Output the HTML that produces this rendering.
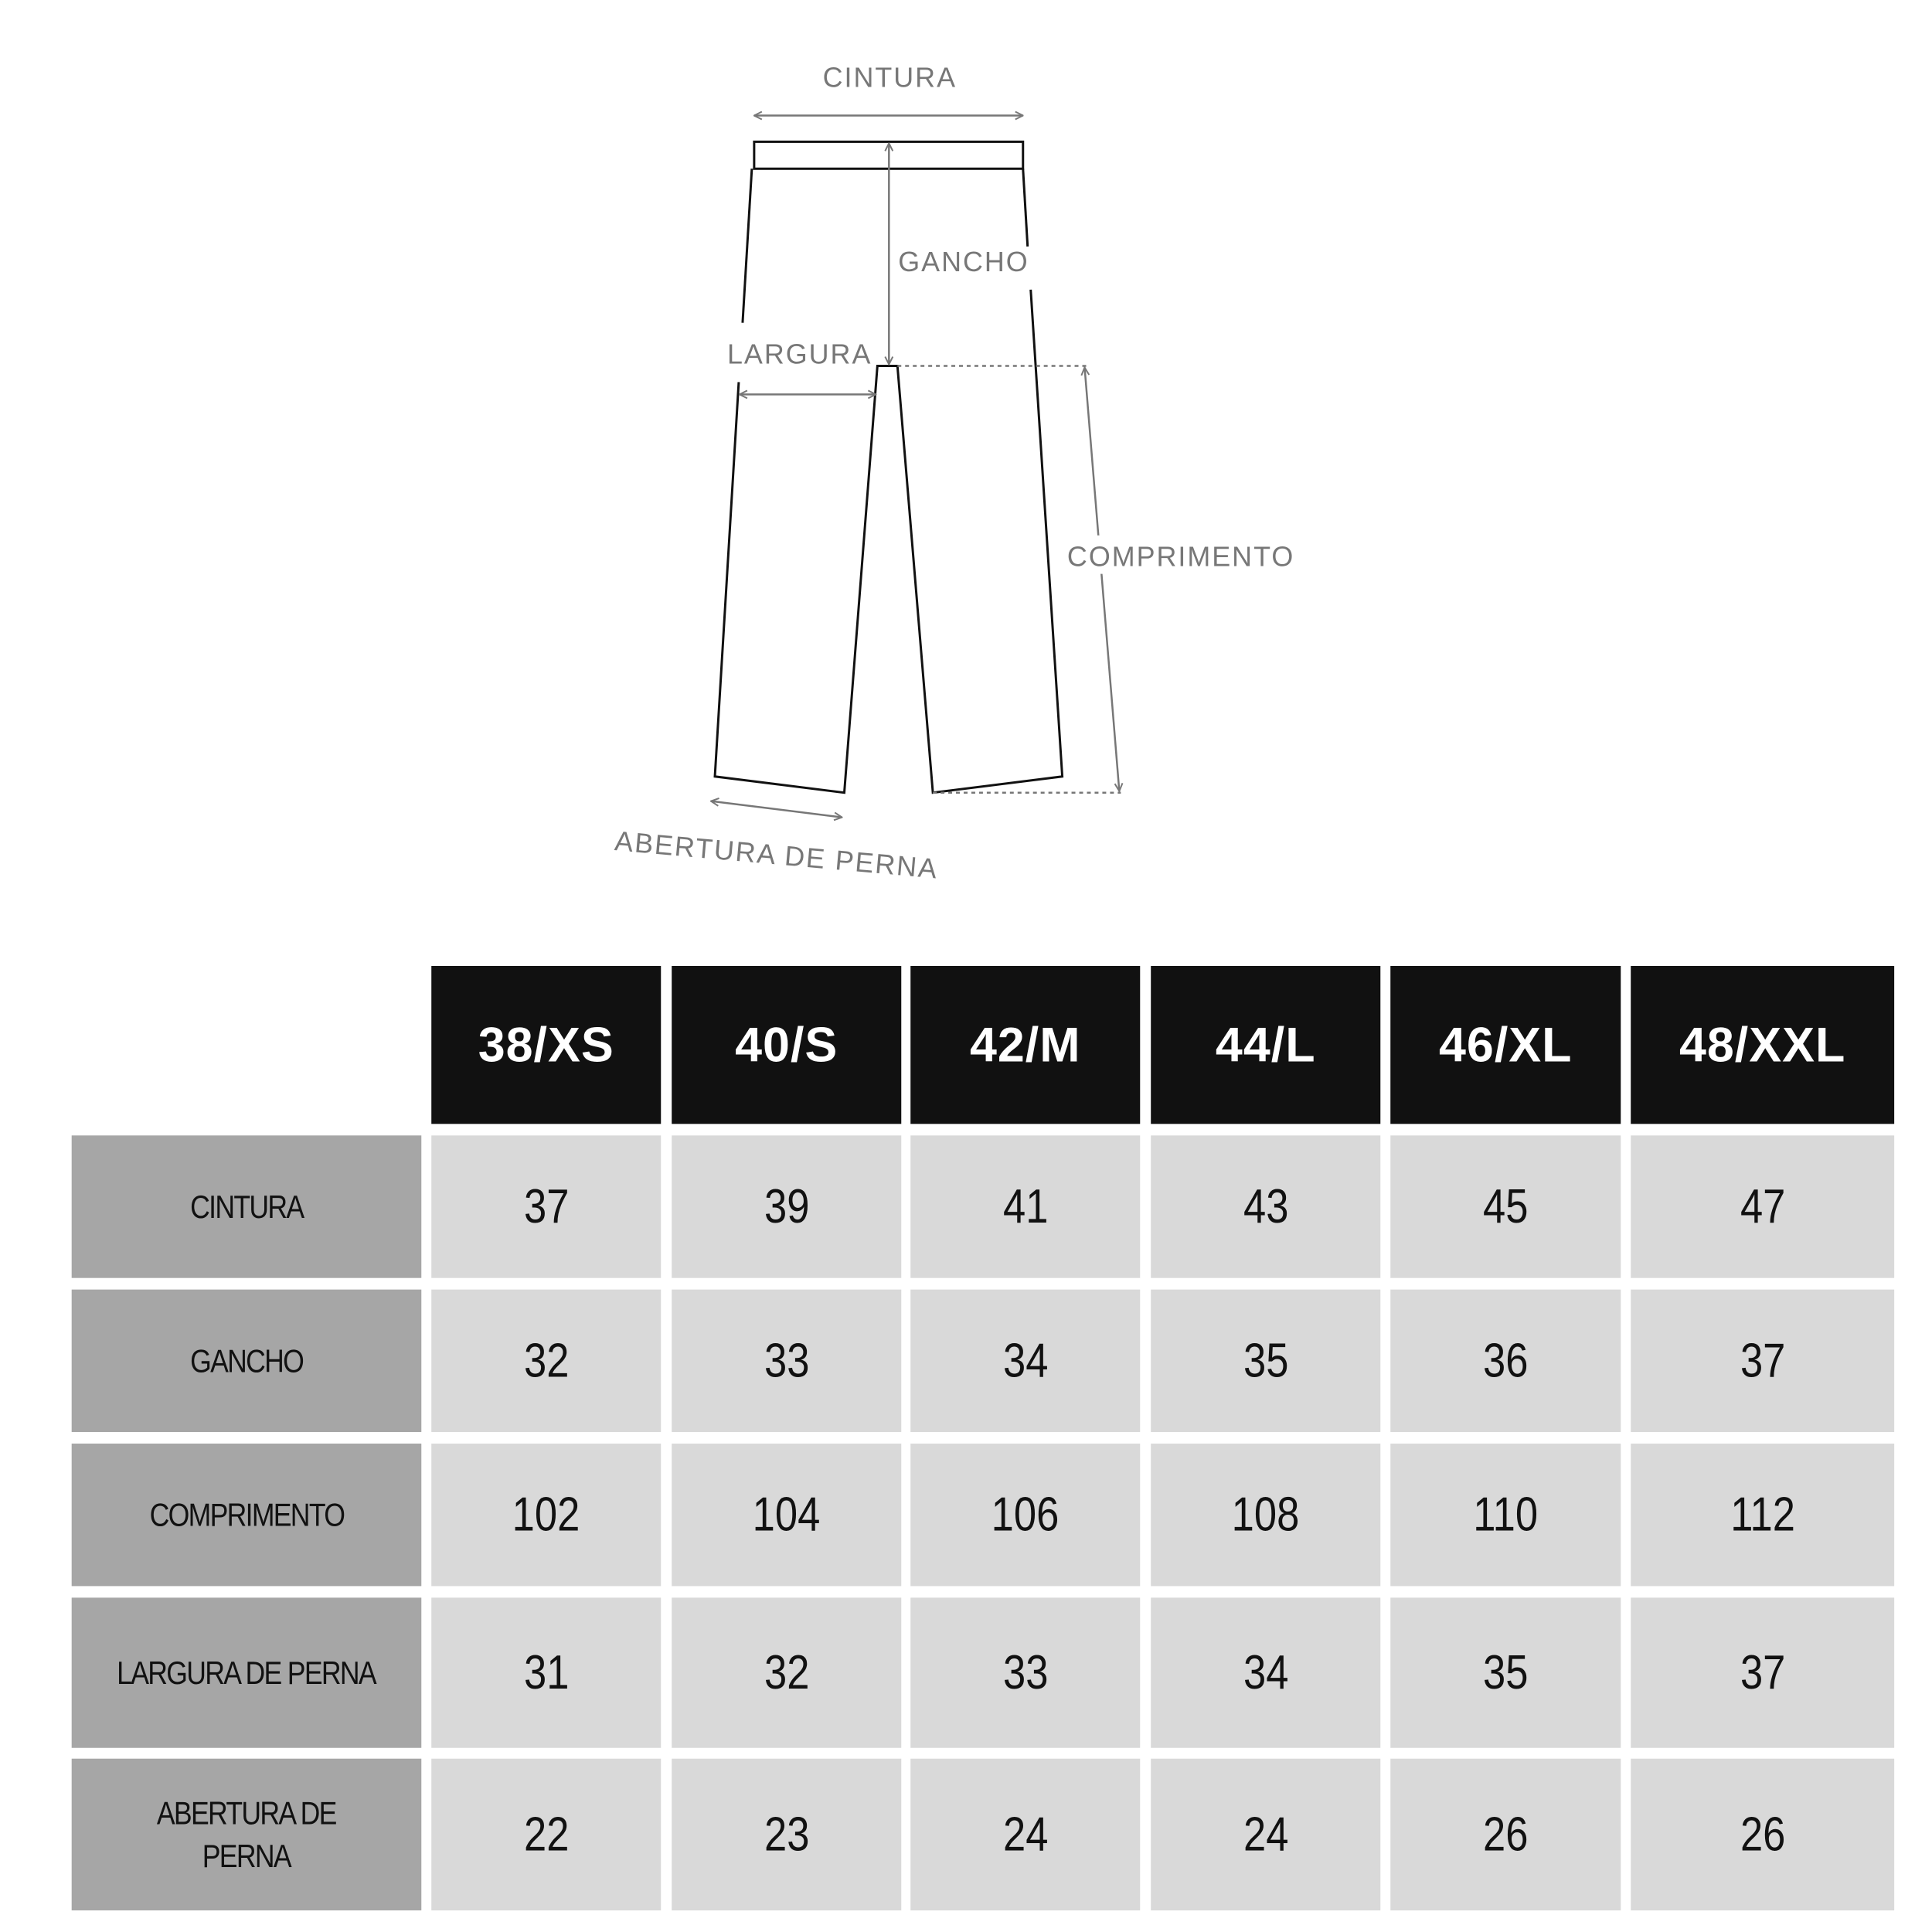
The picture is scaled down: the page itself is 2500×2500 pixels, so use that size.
<!DOCTYPE html>
<html><head><meta charset="utf-8">
<style>
html,body{margin:0;padding:0;background:#fff;width:2500px;height:2500px;overflow:hidden;position:relative;font-family:"Liberation Sans",sans-serif}
#wrap{position:absolute;left:0;top:0;width:2500px;height:2500px;transform:scale(0.9968);transform-origin:0 0}
.cell{position:absolute;display:flex;align-items:center;justify-content:center;text-align:center}
.hdr{background:#111;color:#fff;font-weight:bold;font-size:63px;letter-spacing:1px}
.lbl{background:#a6a6a6;color:#111;font-size:42px;line-height:56px;letter-spacing:-2px}
.lbl span,.val span{display:inline-block;transform:scaleX(0.85)}
.val{background:#d9d9d9;color:#111;font-size:62px}
svg{position:absolute;left:0;top:0}
svg text{font-family:"Liberation Sans",sans-serif;fill:#777;font-size:36px;letter-spacing:2px}
</style></head>
<body>
<div id="wrap">
<svg width="2500" height="1250">
<defs>
<marker id="ah" viewBox="0 0 12 12" refX="11" refY="6" markerWidth="12" markerHeight="12" orient="auto-start-reverse" markerUnits="userSpaceOnUse">
<path d="M1 1 L11 6 L1 11" fill="none" stroke="#777" stroke-width="2"/></marker>
</defs>
<g stroke="#111" stroke-width="3" fill="none">
<rect x="979" y="184" width="349" height="35"/>
<polyline points="976,219 964,419"/>
<polyline points="959,496 928,1008 1096,1029 1139,475 1165,475 1211,1029 1379,1008 1338,376"/>
<polyline points="1328,219 1334,320"/>
</g>
<g stroke="#777" stroke-width="2.5" fill="none">
<line x1="979" y1="150" x2="1328" y2="150" marker-start="url(#ah)" marker-end="url(#ah)"/>
<line x1="1154" y1="186" x2="1154" y2="473" marker-start="url(#ah)" marker-end="url(#ah)"/>
<line x1="960" y1="512" x2="1137" y2="512" marker-start="url(#ah)" marker-end="url(#ah)"/>
<line x1="1408" y1="477" x2="1453" y2="1027" marker-start="url(#ah)" marker-end="url(#ah)"/>
<line x1="923" y1="1040" x2="1093" y2="1061" marker-start="url(#ah)" marker-end="url(#ah)"/>
<line x1="1165" y1="475" x2="1410" y2="475" stroke-dasharray="5,5"/>
<line x1="1211" y1="1029" x2="1455" y2="1029" stroke-dasharray="5,5"/>
</g>
<rect x="1380" y="695" width="300" height="50" fill="#fff"/>
<text x="1155" y="113" text-anchor="middle">CINTURA</text>
<text x="1251" y="352" text-anchor="middle">GANCHO</text>
<text x="1038" y="472" text-anchor="middle">LARGURA</text>
<text x="1533" y="735" text-anchor="middle">COMPRIMENTO</text>
<text x="1008" y="1122" text-anchor="middle" transform="rotate(5 1008 1110)">ABERTURA DE PERNA</text>
</svg>
<div id="table"></div>
</div>
<script>
const sizes = ["38/XS","40/S","42/M","44/L","46/XL","48/XXL"];
const measures = ["CINTURA","GANCHO","COMPRIMENTO","LARGURA DE PERNA","ABERTURA DE<br>PERNA"];
const cintura = [37,39,41,43,45,47];
const gancho = [32,33,34,35,36,37];
const comprimento = [102,104,106,108,110,112];
const largura = [31,32,33,34,35,37];
const abertura = [22,23,24,24,26,26];
const rowsData = [cintura,gancho,comprimento,largura,abertura];
const colX=[560,872,1182,1494,1805,2117], colW=[298,298,298,298,299,342];
const rowY=[1474,1674,1874,2074,2283], rowH=[185,185,185,195,197];
const t=document.getElementById('table');
function mk(cls,x,y,w,h,html){const d=document.createElement('div');d.className='cell '+cls;d.style.left=x+'px';d.style.top=y+'px';d.style.width=w+'px';d.style.height=h+'px';d.innerHTML=html;t.appendChild(d);return d;}
sizes.forEach((s,i)=>{const d=mk('hdr',colX[i],1254,colW[i],205,s);

});
measures.forEach((m,r)=>{const d=mk('lbl',93,rowY[r],454,rowH[r],'<span>'+m+'</span>');


rowsData[r].forEach((v,i)=>{const c=mk('val',colX[i],rowY[r],colW[i],rowH[r],'<span>'+v+'</span>');

});});
</script>
</body></html>
